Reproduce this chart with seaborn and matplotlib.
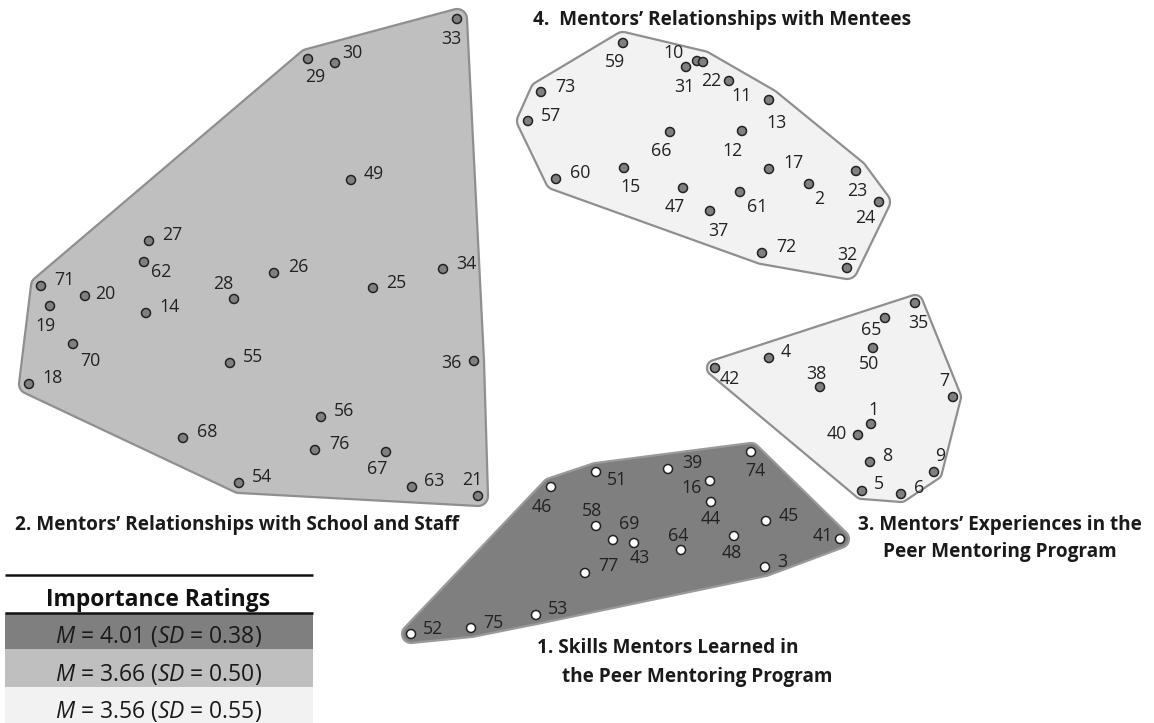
import numpy as np
import pandas as pd
import matplotlib
matplotlib.use("Agg")
import matplotlib.pyplot as plt
import seaborn as sns
from matplotlib.patches import Polygon, Rectangle

# ---------------- data (concept-map coordinates) ----------------
c1_ids = [74, 39, 51, 16, 46, 44, 45, 58, 69, 43, 64, 48, 41, 3, 77, 53, 75, 52]
c1_x = [751, 668, 596, 710, 551, 711, 766, 596, 613, 634, 681, 734, 840, 765, 585, 536, 471, 411]
c1_y = [452, 469, 472, 481, 487, 502, 521, 526, 540, 543, 550, 536, 539, 567, 573, 615, 628, 634]

c2_ids = [33, 29, 30, 49, 27, 62, 26, 28, 25, 34, 71, 20, 19, 14, 70, 55, 36, 18, 56, 68, 76, 67, 54, 63, 21]
c2_x = [457, 308, 335, 351, 149, 144, 274, 234, 373, 443, 41, 85, 50, 146, 73, 230, 474, 29, 321, 183, 315, 386, 239, 412, 478]
c2_y = [19, 59, 63, 180, 241, 262, 273, 299, 288, 269, 286, 296, 306, 313, 344, 363, 361, 384, 417, 438, 450, 452, 483, 487, 496]

c3_ids = [35, 65, 4, 50, 42, 38, 7, 1, 40, 8, 9, 5, 6]
c3_x = [915, 885, 769, 873, 715, 820, 953, 871, 858, 870, 934, 862, 901]
c3_y = [303, 318, 358, 348, 368, 387, 397, 424, 435, 462, 472, 491, 494]

c4_ids = [59, 10, 22, 31, 11, 73, 57, 13, 66, 12, 17, 60, 15, 47, 61, 2, 23, 24, 37, 72, 32]
c4_x = [623, 697, 703, 686, 729, 541, 528, 769, 670, 742, 769, 556, 624, 683, 740, 809, 856, 879, 710, 762, 847]
c4_y = [43, 61, 62, 67, 81, 92, 121, 100, 132, 131, 169, 179, 168, 188, 192, 184, 171, 202, 211, 253, 268]

cluster_names = {
    1: ["1. Skills Mentors Learned in", "the Peer Mentoring Program"],
    2: ["2. Mentors\u2019 Relationships with School and Staff"],
    3: ["3. Mentors\u2019 Experiences in the", "Peer Mentoring Program"],
    4: ["4.  Mentors\u2019 Relationships with Mentees"],
}
rating_means = [4.01, 3.66, 3.56]
rating_sds = [0.38, 0.50, 0.55]
legend_title = "Importance Ratings"

# ---------------- layout / style ----------------
label_offsets = {
    # cluster 1
    74: (4, 19), 39: (24, -6), 51: (21, 8), 16: (-18, 7), 46: (-9, 20), 44: (0, 17),
    45: (23, -5), 58: (-4, -15), 69: (16, -16), 43: (6, 15), 64: (-3, -14), 48: (-2, 17),
    41: (-17, -3), 3: (17, -5), 77: (23, -7), 53: (22, -6), 75: (22, -5), 52: (22, -5),
    # cluster 2
    33: (-6, 20), 29: (7, 18), 30: (17, -10), 49: (23, -6), 27: (23, -6), 62: (17, 10),
    26: (24, -6), 28: (-11, -15), 25: (23, -5), 34: (23, -5), 71: (23, -6), 20: (20, -2),
    19: (-5, 20), 14: (23, -6), 70: (17, 17), 55: (23, -6), 36: (-23, 2), 18: (23, -6),
    56: (23, -6), 68: (24, -6), 76: (24, -6), 67: (-9, 17), 54: (23, -6), 63: (22, -6),
    21: (-6, -16),
    # cluster 3
    35: (3, 20), 65: (-14, 12), 4: (17, -6), 50: (-4, 16), 42: (15, 11), 38: (-4, -13),
    7: (-9, -16), 1: (2, -14), 40: (-21, -1), 8: (17, -6), 9: (6, -16), 5: (17, -7),
    6: (18, -6),
    # cluster 4
    59: (-8, 19), 10: (-24, -8), 22: (8, 19), 31: (-2, 20), 11: (12, 15), 73: (24, -5),
    57: (23, -5), 13: (7, 23), 66: (-9, 19), 12: (-10, 20), 17: (24, -6), 60: (24, -6),
    15: (6, 19), 47: (-8, 19), 61: (17, 15), 2: (10, 15), 23: (1, 20), 24: (-14, 16),
    37: (8, 20), 72: (24, -6), 32: (0, -13),
}
fill_colors = {1: "#7f7f7f", 2: "#bfbfbf", 3: "#f2f2f2", 4: "#f2f2f2"}
edge_colors = {1: "#9a9a9a", 2: "#8f8f8f", 3: "#8f8f8f", 4: "#8f8f8f"}
hull_pad = {1: 9, 2: 10, 3: 8, 4: 11}
point_colors = {1: "#ffffff", 2: "#808080", 3: "#808080", 4: "#808080"}
# (x, baseline) for each title line
title_pos = {1: [(537, 653), (562, 682)], 2: [(15, 530)],
             3: [(858, 530), (883, 557)], 4: [(533, 25)]}
legend_rows = ["#7f7f7f", "#bfbfbf", "#f2f2f2"]

sns.set_theme(style="white")
plt.rcParams["font.family"] = ["Open Sans", "DejaVu Sans"]
plt.rcParams["mathtext.fontset"] = "custom"
plt.rcParams["mathtext.rm"] = "Open Sans"
plt.rcParams["mathtext.it"] = "Open Sans:italic"

frames = []
for cid, ids, xs, ys in [(1, c1_ids, c1_x, c1_y), (2, c2_ids, c2_x, c2_y),
                         (3, c3_ids, c3_x, c3_y), (4, c4_ids, c4_x, c4_y)]:
    frames.append(pd.DataFrame({"id": ids, "x": xs, "y": ys, "cluster": cid}))
df = pd.concat(frames, ignore_index=True)


def rounded_hull(xs, ys, pad, n=36):
    t = np.linspace(0, 2 * np.pi, n, endpoint=False)
    px = (np.asarray(xs, float)[:, None] + pad * np.cos(t)).ravel()
    py = (np.asarray(ys, float)[:, None] + pad * np.sin(t)).ravel()
    pts = sorted(set(zip(np.round(px, 4), np.round(py, 4))))

    def cross(o, a, b):
        return (a[0] - o[0]) * (b[1] - o[1]) - (a[1] - o[1]) * (b[0] - o[0])

    lower, upper = [], []
    for p in pts:
        while len(lower) >= 2 and cross(lower[-2], lower[-1], p) <= 0:
            lower.pop()
        lower.append(p)
    for p in reversed(pts):
        while len(upper) >= 2 and cross(upper[-2], upper[-1], p) <= 0:
            upper.pop()
        upper.append(p)
    return np.array(lower[:-1] + upper[:-1])


fig = plt.figure(figsize=(11.54, 7.23), dpi=100)
ax = fig.add_axes([0, 0, 1, 1])
ax.set_xlim(0, 1154)
ax.set_ylim(723, 0)
ax.axis("off")

for cid, g in df.groupby("cluster"):
    hull = rounded_hull(g["x"], g["y"], hull_pad[cid])
    ax.add_patch(Polygon(hull, closed=True, facecolor=fill_colors[cid],
                         edgecolor=edge_colors[cid], linewidth=1.6, zorder=1))

sns.scatterplot(data=df, x="x", y="y", hue="cluster", palette=point_colors,
                s=42, edgecolor="#222222", linewidth=1.1, legend=False, ax=ax, zorder=3)

for _, r in df.iterrows():
    dx, dy = label_offsets[r["id"]]
    ax.text(r["x"] + dx, r["y"] + dy, str(r["id"]), ha="center", va="center",
            fontsize=12.8, color="#222222", zorder=4)

for cid, lines in cluster_names.items():
    for (x0, yb), line in zip(title_pos[cid], lines):
        ax.text(x0, yb, line, ha="left", va="baseline", fontsize=13.7,
                fontweight="bold", color="#1a1a1a", zorder=4)

# importance-ratings table
ax.plot([5, 313], [575, 575], color="#111111", lw=1.8, solid_capstyle="butt")
ax.text(158, 606, legend_title, ha="center", va="baseline", fontsize=16.5,
        fontweight="bold", color="#111111")
row_tops = [613, 649, 687]
row_h = [36, 38, 36]
row_base = [643, 681, 718]
for i, (m, sd) in enumerate(zip(rating_means, rating_sds)):
    ax.add_patch(Rectangle((5, row_tops[i]), 308, row_h[i], facecolor=legend_rows[i],
                           edgecolor="none", zorder=1))
    ax.text(158, row_base[i], f"$M$ = {m:.2f} ($SD$ = {sd:.2f})", ha="center",
            va="baseline", fontsize=16.5, color="#1a1a1a", zorder=2)
ax.plot([5, 313], [613, 613], color="#111111", lw=1.8, solid_capstyle="butt", zorder=3)

fig.savefig("out.png", dpi=100)
